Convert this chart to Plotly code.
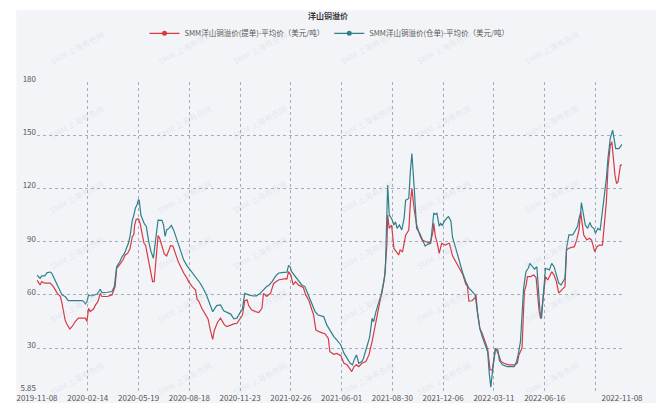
import plotly.graph_objects as go

# ---------------- data ----------------
title_text = "洋山铜溢价"
name_tidan = "SMM洋山铜溢价(提单)-平均价（美元/吨）"
name_cangdan = "SMM洋山铜溢价(仓单)-平均价（美元/吨）"

# trading-day index positions of the category ticks
tick_idx = [0, 65, 130, 195, 260, 325, 390, 455, 520, 585, 650, 715, 749]
tick_text = ["2019-11-08", "2020-02-14", "2020-05-19", "2020-08-18", "2020-11-23",
             "2021-02-26", "2021-06-01", "2021-08-30", "2021-12-06", "2022-03-11",
             "2022-06-16", "", "2022-11-08"]
y_ticks = [5.85, 30, 60, 90, 120, 150, 180]
y_tick_text = ["5.85", "30", "60", "90", "120", "150", "180"]

# SMM 洋山铜溢价(仓单) – trading-day index / value (USD/t)
cangdan_idx = [0, 4, 6, 10, 13, 17, 19, 21, 23, 26, 30, 32, 36, 40, 47, 58, 60, 62, 64, 66,
               70, 77, 81, 83, 90, 96, 99, 102, 106, 109, 112, 115, 117, 119, 122, 124, 126, 128, 130, 131,
               133, 137, 140, 143, 146, 149, 152, 155, 160, 162, 164, 166, 169, 172, 175, 179, 184, 188, 192, 196,
               199, 205, 209, 213, 217, 222, 225, 230, 235, 239, 243, 248, 252, 256, 260, 263, 266, 271, 277, 281,
               286, 290, 294, 297, 301, 305, 309, 313, 320, 322, 324, 326, 331, 335, 339, 343, 348, 352, 356, 360,
               367, 371, 376, 380, 384, 389, 393, 397, 401, 404, 406, 409, 412, 416, 418, 423, 426, 429, 431, 434,
               438, 441, 444, 446, 448, 449, 451, 454, 457, 459, 461, 464, 467, 470, 472, 476, 478, 480, 483, 486,
               490, 493, 497, 500, 504, 506, 508, 510, 512, 515, 517, 519, 521, 525, 527, 530, 532, 536, 540, 545,
               549, 553, 557, 561, 564, 567, 570, 574, 577, 579, 581, 584, 587, 590, 592, 596, 602, 611, 614, 616,
               619, 621, 623, 626, 629, 631, 634, 637, 640, 642, 644, 646, 648, 651, 656, 659, 662, 665, 668, 671,
               673, 676, 678, 681, 686, 688, 692, 694, 696, 697, 700, 702, 705, 708, 710, 713, 715, 718, 721, 724,
               727, 729, 731, 734, 737, 739, 741, 745, 749]
cangdan_val = [71.2, 69.4, 70.7, 70.7, 72.6, 72.9, 72.2, 70.7, 68.4, 65.6, 61.9, 60.0, 59.1, 56.8, 56.8, 56.8, 56.2, 54.9, 56.2, 60.0,
               59.4, 60.5, 63.2, 61.3, 61.5, 61.9, 64.7, 75.9, 78.7, 81.6, 83.4, 86.3, 89.1, 92.8, 102.0, 105.0, 109.0, 110.7, 113.8, 113.0,
               105.0, 100.5, 98.5, 90.0, 84.4, 80.7, 91.5, 102.2, 102.0, 99.5, 93.0, 96.6, 97.5, 99.2, 96.5, 91.0, 85.3, 79.5, 76.5, 74.2,
               72.2, 68.8, 66.6, 63.5, 60.0, 54.0, 50.5, 54.0, 54.4, 51.0, 50.2, 49.2, 46.5, 46.9, 50.0, 52.0, 60.9, 60.0, 59.4, 59.5,
               61.0, 63.0, 64.7, 65.5, 67.5, 70.3, 72.2, 72.6, 72.8, 76.5, 76.0, 73.1, 70.3, 67.5, 65.6, 64.7, 59.0, 54.3, 50.6, 48.7,
               47.8, 43.1, 39.0, 36.5, 34.5, 31.8, 27.2, 24.3, 21.5, 20.6, 23.4, 26.2, 21.5, 22.5, 24.3, 31.8, 36.5, 46.8, 44.9, 50.6,
               56.2, 60.9, 67.5, 73.1, 106.9, 121.9, 105.0, 103.1, 99.4, 101.2, 97.5, 99.4, 96.6, 103.1, 113.4, 114.4, 129.4, 139.7, 120.0, 97.5,
               94.7, 91.9, 87.5, 88.5, 89.1, 97.5, 106.0, 105.5, 106.0, 98.8, 100.3, 99.0, 101.2, 103.5, 104.1, 101.5, 92.5, 86.5, 80.0, 72.5,
               67.5, 63.8, 62.0, 60.0, 50.0, 41.0, 36.5, 31.8, 28.0, 16.0, 8.0, 20.0, 29.5, 29.5, 23.0, 20.6, 19.6, 19.6, 22.5, 26.2,
               33.7, 48.7, 63.7, 73.1, 75.0, 77.8, 75.9, 74.6, 75.9, 61.9, 50.6, 46.9, 59.1, 75.0, 74.1, 77.8, 75.9, 71.2, 66.6, 65.6,
               67.5, 69.4, 86.3, 93.8, 93.8, 95.6, 98.5, 103.1, 106.0, 112.1, 105.0, 99.4, 97.5, 100.9, 98.5, 97.5, 94.7, 97.5, 96.6, 106.9,
               116.3, 125.7, 136.9, 148.2, 152.9, 146.3, 142.5, 142.5, 144.8]

# SMM 洋山铜溢价(提单) – trading-day index / value (USD/t)
tidan_idx = [0, 4, 6, 10, 17, 21, 26, 30, 32, 34, 36, 38, 42, 45, 49, 53, 62, 64, 66, 68,
             72, 75, 78, 81, 83, 90, 96, 100, 102, 107, 110, 113, 116, 119, 122, 124, 125, 127, 130, 132,
             134, 137, 139, 141, 144, 146, 148, 150, 152, 155, 157, 160, 163, 166, 169, 171, 174, 177, 181, 184,
             188, 192, 194, 199, 203, 205, 207, 211, 216, 219, 222, 224, 225, 227, 231, 235, 237, 240, 243, 248,
             252, 256, 260, 263, 266, 269, 271, 275, 280, 284, 288, 290, 294, 299, 303, 307, 309, 318, 320, 322,
             325, 328, 331, 335, 341, 344, 348, 352, 354, 357, 361, 369, 373, 375, 380, 384, 389, 393, 397, 400,
             403, 406, 409, 412, 416, 421, 425, 429, 433, 436, 439, 442, 445, 448, 449, 451, 454, 457, 460, 463,
             465, 468, 472, 476, 478, 480, 483, 486, 490, 493, 498, 502, 504, 507, 508, 510, 512, 515, 518, 521,
             523, 527, 528, 532, 536, 540, 545, 549, 551, 553, 557, 561, 562, 564, 567, 570, 573, 577, 580, 583,
             587, 591, 594, 598, 604, 612, 615, 617, 621, 623, 624, 626, 628, 632, 636, 639, 641, 643, 645, 648,
             651, 654, 659, 662, 665, 668, 673, 676, 678, 681, 688, 691, 694, 696, 698, 700, 704, 707, 710, 712,
             714, 717, 720, 724, 726, 729, 731, 734, 736, 738, 740, 742, 744, 747, 749]
tidan_val = [68.4, 65.6, 67.5, 66.6, 66.6, 64.7, 60.9, 59.1, 55.3, 49.7, 45.9, 43.7, 40.8, 42.2, 45.0, 46.9, 46.9, 45.0, 52.5, 50.6,
             51.9, 54.4, 56.2, 60.9, 59.1, 59.1, 60.0, 64.7, 75.0, 77.8, 79.7, 82.5, 83.4, 86.0, 92.8, 94.0, 99.4, 102.6, 102.8, 100.3,
             96.5, 89.1, 88.0, 83.4, 77.8, 71.8, 67.5, 67.5, 79.0, 93.5, 91.9, 88.0, 83.1, 81.9, 86.0, 87.8, 87.5, 83.4, 78.5, 75.9,
             72.2, 69.5, 67.5, 64.5, 62.8, 57.5, 56.5, 52.5, 49.0, 46.5, 40.0, 35.4, 35.0, 40.0, 44.5, 46.9, 45.5, 43.1, 42.2, 43.1,
             43.7, 44.0, 46.9, 48.5, 56.7, 57.2, 54.0, 51.5, 50.6, 50.0, 52.5, 60.9, 59.1, 60.9, 66.5, 67.5, 68.4, 69.2, 69.0, 73.1,
             71.2, 65.6, 67.5, 65.5, 64.2, 60.0, 57.0, 51.5, 49.0, 40.3, 39.3, 38.0, 35.5, 28.0, 26.5, 27.0, 25.8, 21.5, 20.6, 18.7,
             16.8, 19.6, 20.6, 19.6, 21.5, 22.5, 26.2, 33.7, 43.1, 48.7, 56.2, 61.9, 70.3, 88.1, 105.0, 97.5, 99.4, 86.2, 84.4, 82.5,
             85.3, 84.4, 93.7, 96.6, 111.6, 120.0, 108.0, 99.8, 93.7, 91.0, 90.0, 89.3, 90.0, 95.6, 100.3, 93.0, 90.0, 83.4, 89.1, 88.5,
             88.1, 89.1, 89.1, 82.0, 78.7, 75.5, 71.7, 66.0, 65.0, 56.5, 56.7, 58.5, 60.0, 50.0, 41.0, 38.4, 34.6, 29.5, 17.8, 17.8,
             30.0, 26.5, 22.5, 21.5, 20.6, 20.6, 21.5, 26.2, 30.0, 48.7, 61.9, 65.0, 70.3, 70.3, 71.2, 69.8, 60.0, 50.6, 46.5, 57.2,
             70.3, 68.4, 73.1, 71.2, 67.5, 61.0, 63.7, 64.7, 85.3, 86.3, 87.2, 91.0, 96.6, 106.9, 100.3, 93.8, 91.0, 91.9, 91.0, 87.2,
             84.4, 87.2, 88.1, 88.1, 97.5, 112.5, 131.3, 144.4, 146.3, 136.9, 127.5, 122.8, 123.8, 133.2, 133.2]

# ---------------- style ----------------
RED = "#d63a44"
TEAL = "#2f7f8b"
BG = "#f3f4f8"
GRID = "#a6aabd"
FONT = "Noto Sans CJK SC"

W, H = 656, 403
L, R, T, B = 36.7, 34.3, 81.7, 12.0
pw, ph = W - L - R, H - T - B


def px2paper(px, py):
    return (px - L) / pw, (H - B - py) / ph


fig = go.Figure()

fig.add_trace(go.Scatter(x=tidan_idx, y=tidan_val, mode="lines", name=name_tidan,
                         line=dict(color=RED, width=1.2), showlegend=False, hoverinfo="skip"))
fig.add_trace(go.Scatter(x=cangdan_idx, y=cangdan_val, mode="lines", name=name_cangdan,
                         line=dict(color=TEAL, width=1.2), showlegend=False, hoverinfo="skip"))
# legend entries (line + dot symbol)
fig.add_trace(go.Scatter(x=[None], y=[None], mode="lines+markers", name=name_tidan,
                         line=dict(color=RED, width=1.2), marker=dict(color=RED, size=5)))
fig.add_trace(go.Scatter(x=[None], y=[None], mode="lines+markers", name=name_cangdan,
                         line=dict(color=TEAL, width=1.2), marker=dict(color=TEAL, size=5)))

# background card (white margin on the top/left as in the reference)
x0, y1 = px2paper(16, 10)
x1, y0 = px2paper(W, H)
shapes = [dict(type="rect", xref="paper", yref="paper", x0=x0, x1=x1, y0=y0, y1=y1,
               fillcolor=BG, line=dict(width=0), layer="below")]

# faint watermarks
annotations = []
for wx in [45, 153, 260, 367, 475, 583]:
    for wy in [25, 100, 175, 252, 327, 400]:
        ax, ay = px2paper(wx, wy)
        annotations.append(dict(text="SMM 上海有色网", x=ax, y=ay, xref="paper", yref="paper",
                                showarrow=False, textangle=-28,
                                font=dict(family=FONT, size=8, color="rgba(190,196,210,0.3)")))

ty = 1 - 15.7 / H
ly = px2paper(0, 33)[1]

fig.update_layout(
    width=W, height=H,
    margin=dict(l=L, r=R, t=T, b=B, autoexpand=False),
    paper_bgcolor="white", plot_bgcolor=BG,
    font=dict(family=FONT, size=8, color="#555"),
    title=dict(text="<b>" + title_text + "</b>", x=0.5, xref="container", xanchor="center",
               y=ty, yref="container", yanchor="middle",
               font=dict(family=FONT, size=8, color="#333")),
    legend=dict(orientation="h", x=0.5, xanchor="center", y=ly, yanchor="middle",
                font=dict(family=FONT, size=7.5, color="#555"), bgcolor="rgba(0,0,0,0)",
                itemwidth=30, tracegroupgap=0),
    shapes=shapes, annotations=annotations,
    showlegend=True,
)

fig.update_xaxes(range=[0, 749], tickmode="array", tickvals=tick_idx, ticktext=tick_text,
                 showgrid=True, gridcolor=GRID, griddash="dot", gridwidth=1,
                 zeroline=False, showline=False, ticks="", automargin=False,
                 ticklabelstandoff=1,
                 tickfont=dict(family=FONT, size=8, color="#555"))
fig.update_yaxes(range=[5.85, 180], tickmode="array", tickvals=y_ticks, ticktext=y_tick_text,
                 showgrid=True, gridcolor=GRID, griddash="dot", gridwidth=1,
                 zeroline=False, showline=False, ticks="", automargin=False,
                 ticklabelshift=-3,
                 tickfont=dict(family=FONT, size=8, color="#555"))

fig.write_html("out.html", config={"displayModeBar": False},
               post_script="document.body.style.margin='0px';")
